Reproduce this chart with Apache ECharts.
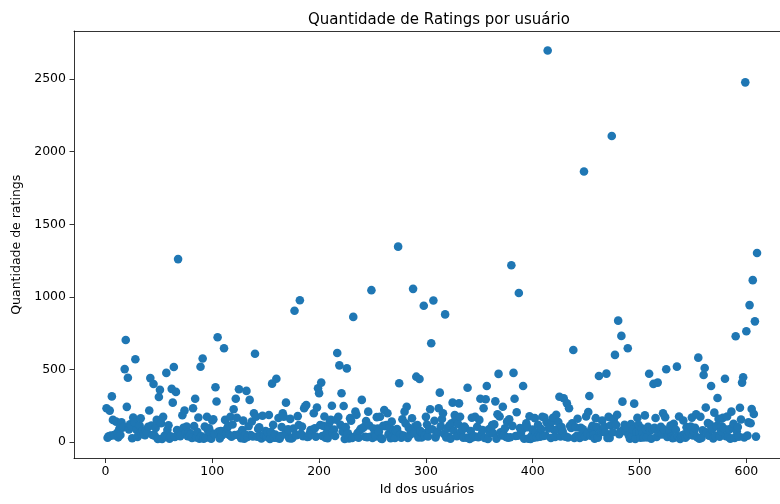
<!DOCTYPE html>
<html>
<head>
<meta charset="utf-8">
<script src="https://cdn.jsdelivr.net/npm/echarts@6/dist/echarts.min.js"></script>
<style>
  html, body { margin: 0; padding: 0; background: #fff; }
  #chart { width: 780px; height: 504px; }
</style>
</head>
<body>
<div id="chart"></div>
<script>
// Number of ratings per user (user ids 1..610)
const ratingCounts = [
  232, 29, 39, 216, 44, 314, 152, 47, 46, 140,
  64, 32, 91, 48, 135, 98, 105, 502, 703, 242,
  443, 87, 121, 110, 26, 168, 135, 570, 84, 34,
  50, 114, 163, 56, 79, 58, 46, 81, 62, 105,
  217, 440, 114, 48, 399, 44, 97, 152, 21, 310,
  359, 130, 20, 173, 38, 46, 476, 84, 115, 22,
  39, 366, 271, 517, 34, 345, 82, 1260, 43, 40,
  54, 184, 97, 216, 60, 107, 39, 67, 39, 54,
  28, 232, 110, 298, 31, 70, 169, 22, 518, 39,
  575, 22, 106, 29, 174, 79, 94, 67, 22, 148,
  156, 56, 377, 279, 722, 72, 24, 76, 45, 73,
  646, 152, 58, 96, 112, 48, 174, 36, 120, 225,
  48, 298, 167, 50, 363, 57, 26, 83, 147, 23,
  51, 352, 35, 108, 290, 48, 141, 38, 198, 608,
  174, 36, 90, 101, 39, 24, 181, 48, 47, 76,
  36, 66, 186, 20, 69, 402, 118, 30, 51, 436,
  27, 165, 23, 40, 103, 198, 174, 54, 271, 66,
  88, 26, 159, 24, 28, 92, 904, 50, 47, 178,
  117, 977, 56, 106, 40, 232, 246, 255, 35, 36,
  56, 83, 54, 84, 198, 95, 37, 237, 370, 336,
  117, 409, 41, 111, 176, 29, 62, 26, 107, 138,
  152, 250, 60, 86, 41, 153, 613, 174, 528, 118,
  336, 70, 248, 21, 102, 507, 60, 24, 164, 147,
  27, 862, 36, 209, 187, 61, 29, 77, 90, 290,
  96, 103, 36, 145, 33, 209, 114, 36, 1046, 28,
  93, 60, 38, 171, 92, 71, 174, 25, 21, 111,
  220, 109, 117, 198, 54, 100, 26, 140, 41, 82,
  27, 76, 89, 1346, 405, 51, 30, 157, 44, 209,
  128, 243, 28, 97, 49, 80, 163, 1055, 60, 108,
  450, 116, 31, 434, 75, 31, 61, 939, 42, 173,
  120, 38, 86, 225, 680, 88, 975, 146, 31, 54,
  72, 232, 340, 108, 158, 198, 56, 879, 31, 95,
  38, 113, 23, 128, 271, 80, 185, 163, 39, 125,
  266, 174, 67, 88, 29, 107, 96, 29, 374, 27,
  20, 76, 167, 32, 39, 174, 36, 105, 33, 152,
  298, 52, 82, 232, 28, 294, 386, 21, 88, 67,
  94, 117, 60, 121, 280, 23, 191, 469, 176, 67,
  45, 243, 48, 94, 34, 140, 29, 157, 33, 1218,
  111, 476, 298, 41, 205, 43, 1027, 96, 62, 84,
  386, 22, 102, 129, 101, 23, 177, 20, 42, 85,
  29, 164, 63, 33, 119, 53, 37, 89, 174, 41,
  168, 45, 136, 2698, 93, 108, 27, 141, 167, 82,
  35, 188, 87, 138, 312, 38, 103, 74, 301, 38,
  38, 266, 31, 232, 111, 96, 129, 634, 27, 101,
  40, 160, 44, 27, 98, 42, 88, 1864, 36, 176,
  61, 207, 317, 44, 92, 112, 51, 23, 164, 103,
  30, 455, 64, 75, 147, 79, 106, 65, 471, 28,
  173, 28, 115, 2108, 67, 159, 600, 118, 188, 836,
  53, 72, 731, 278, 86, 118, 72, 100, 646, 45,
  23, 124, 43, 86, 264, 21, 71, 166, 119, 61,
  29, 95, 62, 31, 183, 87, 32, 104, 470, 77,
  23, 88, 400, 98, 165, 35, 409, 66, 94, 104,
  52, 198, 86, 171, 501, 34, 41, 78, 114, 38,
  26, 126, 31, 84, 519, 37, 176, 21, 36, 46,
  148, 53, 30, 102, 43, 71, 58, 106, 168, 45,
  69, 97, 190, 32, 581, 22, 174, 28, 81, 462,
  510, 237, 67, 130, 44, 120, 386, 87, 25, 202,
  40, 110, 303, 159, 36, 76, 108, 166, 93, 436,
  40, 176, 36, 88, 23, 209, 99, 126, 28, 728,
  74, 103, 37, 236, 155, 409, 446, 31, 2478, 763,
  44, 135, 943, 129, 227, 1115, 193, 831, 37, 1302
];
// user ids are the categories 1..N
const userIds = ratingCounts.map((_, i) => i + 1);

const xTicks = [0, 100, 200, 300, 400, 500, 600];
const yTicks = [0, 500, 1000, 1500, 2000, 2500];

const titleText = 'Quantidade de Ratings por usuário';
const xLabel = 'Id dos usuários';
const yLabel = 'Quantidade de ratings';

const FONT = 'DejaVu Sans';

const chart = echarts.init(document.getElementById('chart'), null, { renderer: 'canvas' });

const points = userIds.map((id, i) => [id, ratingCounts[i]]);

const plainLabel = v => String(v);

chart.setOption({
  animation: false,
  backgroundColor: '#ffffff',
  title: {
    text: titleText,
    left: 434,
    textAlign: 'center',
    top: 8,
    textStyle: { fontFamily: FONT, fontSize: 15, fontWeight: 'normal', color: '#000' }
  },
  grid: {
    left: 74,
    top: 31,
    right: 0,
    bottom: 45.5,
    show: false
  },
  xAxis: [{
    type: 'value',
    min: -29.45,
    max: 631.5,
    name: xLabel,
    nameLocation: 'middle',
    nameGap: 25,
    nameTextStyle: { fontFamily: FONT, fontSize: 12.5, color: '#000' },
    axisLine: { show: true, onZero: false, lineStyle: { color: '#000', width: 0.8 } },
    axisTick: { show: true, length: 4.5, customValues: xTicks, lineStyle: { color: '#000', width: 0.8 } },
    axisLabel: { customValues: xTicks, formatter: plainLabel, margin: 7, fontFamily: FONT, fontSize: 12.5, color: '#000' },
    splitLine: { show: false }
  }, {
    type: 'value',
    position: 'top',
    min: -29.45,
    max: 631.5,
    axisLine: { show: true, onZero: false, lineStyle: { color: '#000', width: 0.8 } },
    axisTick: { show: false },
    axisLabel: { show: false },
    splitLine: { show: false }
  }],
  yAxis: {
    type: 'value',
    min: -113.9,
    max: 2831.9,
    name: yLabel,
    nameLocation: 'middle',
    nameRotate: 90,
    nameGap: 45,
    nameTextStyle: { fontFamily: FONT, fontSize: 12.5, color: '#000' },
    axisLine: { show: true, onZero: false, lineStyle: { color: '#000', width: 0.8 } },
    axisTick: { show: true, length: 4.5, customValues: yTicks, lineStyle: { color: '#000', width: 0.8 } },
    axisLabel: { customValues: yTicks, formatter: plainLabel, margin: 8, fontFamily: FONT, fontSize: 12.5, color: '#000' },
    splitLine: { show: false }
  },
  series: [{
    type: 'scatter',
    xAxisIndex: 0,
    data: points,
    symbol: 'circle',
    symbolSize: 8.6,
    itemStyle: { color: '#1f77b4', opacity: 1 },
    emphasis: { disabled: true },
    large: false
  }]
});
</script>
</body>
</html>
